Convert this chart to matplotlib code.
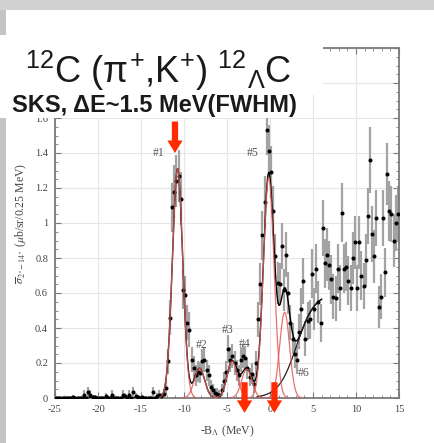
import numpy as np
import matplotlib.pyplot as plt
from matplotlib.patches import Rectangle
from matplotlib.ticker import MultipleLocator, FuncFormatter

plt.rcParams['axes.unicode_minus'] = False
plt.rcParams['mathtext.fontset'] = 'custom'
plt.rcParams['mathtext.rm'] = 'Liberation Sans'
plt.rcParams['mathtext.it'] = 'Liberation Sans'
plt.rcParams['mathtext.bf'] = 'Liberation Sans:bold'

# (pi+,K+) spectrum, 0.25 MeV bins from -25 MeV
bin_lo = -25.0
bin_w = 0.25
xsec = [0, 0, 0, 0, 0, 0, 0, 0, 0.005, 0,
        0, 0, 0, 0.02, 0, 0.035, 0.02, 0.005, 0.005, 0,
        0, 0, 0, 0.01, 0, 0, 0.02, 0, 0, 0,
        0, 0.02, 0.01, 0, 0.02, 0, 0.035, 0.01, 0.005, 0,
        0.005, 0, 0, 0, 0, 0.035, 0, 0.01, 0.02, 0.01,
        0.025, 0.06, 0.21, 0.46, 1.09, 1.18, 1.24, 1.27, 1.14, 0.62,
        0.59, 0.43, 0.39, 0.22, 0.17, 0.13, 0.15, 0.145, 0.21, 0.22,
        0.16, 0.13, 0.065, 0.045, 0.03, 0.025, 0.02, 0.045, 0.10, 0.15,
        0.28, 0.22, 0.24, 0.20, 0.16, 0.13, 0.22, 0.24, 0.23, 0.17,
        0.12, 0.14, 0.08, 0.20, 0.45, 0.65, 0.93, 1.12, 1.53, 1.41,
        1.29, 1.07, 0.81, 0.66, 0.65, 0.87, 0.62, 0.82, 0.60, 0.43,
        0.34, 0.25, 0.22, 0.38, 0.51, 0.67, 0.34, 0.44, 0.45, 0.71,
        0.51, 0.74, 0.55, 0.43, 0.97, 0.77, 0.82, 0.76, 0.68, 0.58,
        0.57, 0.74, 0.63, 1.06, 0.74, 0.75, 0.67, 0.63, 0.80, 0.89,
        0.63, 0.89, 0.70, 0.64, 0.79, 1.04, 1.36, 0.94, 0.81, 1.03,
        0.52, 0.58, 1.03, 0.72, 1.28, 1.07, 1.05, 0.90, 1.00, 1.05]
xsec_err = [0.012, 0.012, 0.012, 0.012, 0.012, 0.012, 0.012, 0.012, 0.015, 0.012,
            0.012, 0.012, 0.012, 0.025, 0.012, 0.03, 0.025, 0.015, 0.015, 0.012,
            0.012, 0.012, 0.012, 0.02, 0.012, 0.012, 0.025, 0.012, 0.012, 0.012,
            0.012, 0.025, 0.02, 0.012, 0.025, 0.012, 0.03, 0.02, 0.015, 0.012,
            0.015, 0.012, 0.012, 0.012, 0.012, 0.03, 0.012, 0.02, 0.025, 0.02,
            0.025, 0.04, 0.07, 0.10, 0.14, 0.15, 0.15, 0.15, 0.15, 0.11,
            0.11, 0.10, 0.10, 0.07, 0.07, 0.06, 0.06, 0.06, 0.07, 0.07,
            0.06, 0.06, 0.04, 0.035, 0.03, 0.03, 0.025, 0.035, 0.05, 0.06,
            0.08, 0.07, 0.07, 0.07, 0.06, 0.06, 0.07, 0.07, 0.07, 0.06,
            0.05, 0.06, 0.05, 0.07, 0.10, 0.12, 0.14, 0.15, 0.14, 0.15,
            0.15, 0.14, 0.13, 0.12, 0.12, 0.13, 0.12, 0.13, 0.12, 0.10,
            0.09, 0.08, 0.08, 0.10, 0.12, 0.13, 0.10, 0.11, 0.11, 0.14,
            0.12, 0.14, 0.12, 0.11, 0.16, 0.14, 0.15, 0.14, 0.14, 0.13,
            0.13, 0.14, 0.13, 0.17, 0.14, 0.14, 0.14, 0.13, 0.15, 0.15,
            0.13, 0.15, 0.14, 0.13, 0.15, 0.16, 0.19, 0.16, 0.15, 0.16,
            0.12, 0.13, 0.16, 0.14, 0.18, 0.17, 0.16, 0.15, 0.16, 0.16]

# gaussian peaks of the fit: centre (MeV), height, sigma (MeV)
peak_names = ['#1', '#2', '#3', '#4', '#5', '#6']
peak_pos = [-10.75, -8.2, -4.4, -2.7, -0.15, 1.7]
peak_amp = [1.31, 0.17, 0.21, 0.165, 1.26, 0.49]
peak_sig = [0.6, 0.6, 0.6, 0.6, 0.62, 0.58]
# where the peak labels sit (MeV, value)
label_x = [-13.0, -7.9, -4.9, -2.95, -2.0, 3.9]
label_y = [1.40, 0.30, 0.39, 0.31, 1.40, 0.14]
# quasi-free continuum: height, edge position, edge width
qf_amp, qf_mid, qf_w = 0.60, 3.1, 1.05
fit_range = (-25.0, 6.0)
qf_range = (-1.5, 6.0)

# marked states: x and arrow top / tip
arrow_x = [-11.05, -2.96, 0.52]
arrow_top = [1.58, 0.09, 0.09]
arrow_tip = [1.40, -0.085, -0.085]

bins = bin_lo + bin_w * (np.arange(len(xsec)) + 0.5)


def gauss(x, a, mu, s):
    return a * np.exp(-0.5 * ((x - mu) / s) ** 2)


def continuum(x):
    return qf_amp / (1.0 + np.exp(-(x - qf_mid) / qf_w))


fig = plt.figure(figsize=(4.35, 4.43), dpi=100)
W, H = 435.0, 443.0


def px_rect(x0, y0, x1, y1, color, z):
    # rectangle given in pixels from the top-left corner
    fig.patches.append(Rectangle((x0 / W, 1 - y1 / H), (x1 - x0) / W, (y1 - y0) / H,
                                 transform=fig.transFigure, facecolor=color,
                                 edgecolor='none', zorder=z))


# slide background: grey frame, white page
px_rect(0, 0, W, H, '#c4c4c4', -10)
px_rect(0, 0, W, 10, '#d2d2d2', -9)
px_rect(6, 10, W, H, 'white', -8)

ax = fig.add_axes([55 / W, 1 - 398 / H, 344 / W, 350 / H])
ax.set_facecolor('white')

ax.errorbar(bins, xsec, yerr=xsec_err, fmt='none', ecolor='#a3a3a3',
            elinewidth=1.6, capsize=0, zorder=2)
ax.plot(bins, xsec, 'o', color='black', ms=1.9, zorder=4)

xf = np.linspace(fit_range[0], fit_range[1], 1500)
total = continuum(xf)
for a, mu, s in zip(peak_amp, peak_pos, peak_sig):
    total = total + gauss(xf, a, mu, s)
ax.plot(xf, total, color='black', lw=1.0, zorder=3)

xq = np.linspace(qf_range[0], qf_range[1], 300)
ax.plot(xq, continuum(xq), color='#222222', lw=0.9, zorder=3)

for a, mu, s in zip(peak_amp, peak_pos, peak_sig):
    xg = np.linspace(mu - 3.5 * s, mu + 3.5 * s, 300)
    ax.plot(xg, gauss(xg, a, mu, s), color='#e05a55', lw=0.9, alpha=0.85, zorder=5)

for name, lx, ly in zip(peak_names, label_x, label_y):
    ax.text(lx, ly, name, family='Liberation Serif', fontsize=8.5, color='#555555',
            ha='center', va='center', zorder=6)

for x, y0, y1 in zip(arrow_x, arrow_top, arrow_tip):
    ax.annotate('', xy=(x, y1), xytext=(x, y0), annotation_clip=False, zorder=7,
                arrowprops=dict(arrowstyle='simple,head_width=1.1,head_length=0.9,tail_width=0.45',
                                color='#ff2a00', lw=0, shrinkA=0, shrinkB=0))

ax.set_xlim(-25, 15)
ax.set_ylim(0, 2.0)
ax.xaxis.set_major_locator(MultipleLocator(5))
ax.xaxis.set_minor_locator(MultipleLocator(1))
ax.yaxis.set_major_locator(MultipleLocator(0.2))
ax.yaxis.set_minor_locator(MultipleLocator(0.05))
# labels above 1.6 sit under the title block
ax.yaxis.set_major_formatter(FuncFormatter(lambda v, p: '%g' % round(v, 2) if v < 1.7 else ''))
ax.grid(True, which='major', color='#e6e6e6', lw=0.8, zorder=0)
ax.set_axisbelow(True)
ax.tick_params(which='both', direction='in', top=True, right=True, color='#7a7a7a')
ax.tick_params(which='major', length=4, width=0.8, labelsize=7.5, labelcolor='#444444', pad=5)
ax.tick_params(which='minor', length=2, width=0.6)
for lab in ax.get_xticklabels() + ax.get_yticklabels():
    lab.set_family('Liberation Serif')
for sp in ax.spines.values():
    sp.set_color('#7a7a7a')
    sp.set_linewidth(1.3)

ax.set_xlabel(r'-B$_\Lambda$ (MeV)', family='Liberation Serif', fontsize=8.5,
              color='#444444', math_fontfamily='stix', labelpad=7)
ax.set_ylabel(r'$\overline{\sigma}_{2^\circ\!-14^\circ}$ ($\mu$b/sr/0.25 MeV)',
              family='Liberation Serif', fontsize=8.5, color='#444444',
              math_fontfamily='stix', labelpad=4)

# title block laid over the upper left of the plot
px_rect(0, 35, 323, 95, 'white', 8)
px_rect(0, 95, 312, 118, 'white', 8)
fig.text(25 / W, 1 - 83 / H, r'$^{12}$C ($\pi^{+}$,K$^{+}$) $^{12}{}_{\Lambda}$C',
         family='Liberation Sans', fontsize=26, color='#1a1a1a',
         math_fontfamily='custom', va='baseline', ha='left', zorder=9)
fig.text(12 / W, 1 - 112 / H, r'SKS, ΔE~1.5 MeV(FWHM)', family='Liberation Sans',
         fontsize=17, fontweight='bold', color='#1a1a1a', va='baseline', ha='left', zorder=9)

fig.savefig('out.png', dpi=100)
